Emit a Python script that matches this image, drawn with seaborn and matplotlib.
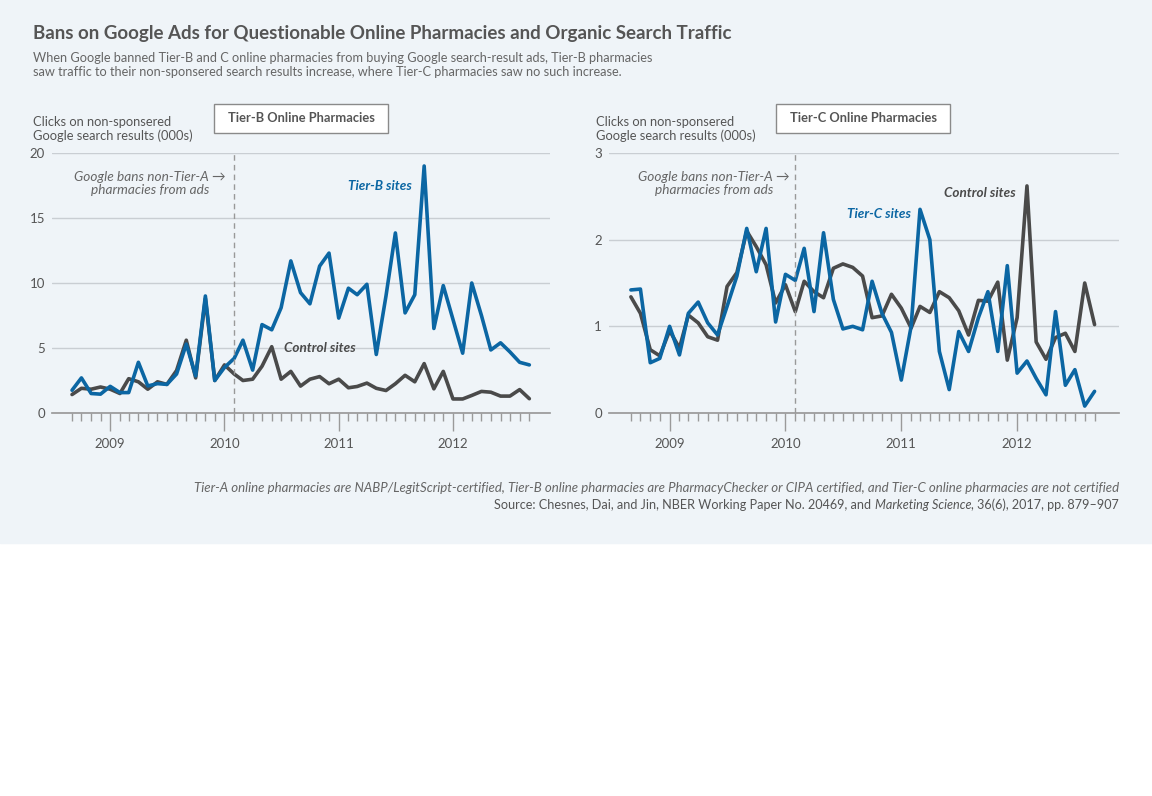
import pandas as pd
import matplotlib.pyplot as plt
import matplotlib.dates as mdates
from matplotlib.patches import Rectangle
import seaborn as sns

# Monthly observations, Sep 2008 - Sep 2012
months = pd.date_range("2008-09-01", periods=49, freq="MS")

tier_b = [1.75, 2.7, 1.5, 1.45, 2.05, 1.57, 1.57, 3.9, 2.08, 2.26, 2.2, 3.0,
          5.3, 2.85, 9.0, 2.5, 3.5, 4.2, 5.6, 3.3, 6.8, 6.4, 8.1, 11.7,
          9.26, 8.4, 11.3, 12.3, 7.3, 9.6, 9.1, 9.9, 4.5, 9.0, 13.85, 7.7,
          9.1, 19.0, 6.5, 9.8, 7.2, 4.6, 10.0, 7.5, 4.85, 5.4, 4.7, 3.9, 3.7]
control_b = [1.42, 1.9, 1.83, 2.0, 1.83, 1.5, 2.64, 2.4, 1.83, 2.4, 2.2, 3.27,
             5.6, 2.7, 8.8, 2.5, 3.7, 3.0, 2.5, 2.6, 3.6, 5.1, 2.6, 3.2,
             2.07, 2.6, 2.8, 2.25, 2.6, 1.94, 2.04, 2.3, 1.9, 1.73, 2.25, 2.9,
             2.4, 3.8, 1.86, 3.2, 1.08, 1.08, 1.35, 1.66, 1.6, 1.3, 1.3, 1.8, 1.1]

tier_c = [1.42, 1.43, 0.58, 0.63, 1.0, 0.67, 1.15, 1.28, 1.04, 0.9, 1.23, 1.58,
          2.13, 1.63, 2.13, 1.05, 1.6, 1.53, 1.9, 1.17, 2.08, 1.31, 0.97, 1.0,
          0.96, 1.52, 1.15, 0.93, 0.38, 1.0, 2.35, 2.0, 0.71, 0.27, 0.94, 0.71,
          1.1, 1.4, 0.71, 1.7, 0.46, 0.6, 0.4, 0.21, 1.17, 0.32, 0.5, 0.08, 0.25]
control_c = [1.34, 1.15, 0.73, 0.66, 0.95, 0.75, 1.13, 1.04, 0.88, 0.84, 1.46, 1.62,
             2.1, 1.92, 1.71, 1.27, 1.48, 1.17, 1.52, 1.4, 1.33, 1.67, 1.72, 1.68,
             1.58, 1.1, 1.12, 1.37, 1.21, 0.98, 1.23, 1.16, 1.4, 1.33, 1.18, 0.9,
             1.3, 1.29, 1.51, 0.61, 1.1, 2.62, 0.82, 0.62, 0.87, 0.92, 0.71, 1.5, 1.02]

ban_date = pd.Timestamp("2010-02-01")

BG = "#eff4f8"
BLUE = "#0b66a3"
DARK = "#4a4a4a"
TXT = "#555555"

sns.set_theme(style="white")
plt.rcParams["font.family"] = ["Lato", "DejaVu Sans"]

fig = plt.figure(figsize=(11.52, 7.96), dpi=100, facecolor="white")
fig.patches.append(Rectangle((0, 1 - 543 / 796), 1, 543 / 796, transform=fig.transFigure,
                             color=BG, zorder=-10))


def px(x, y):
    # pixel position -> figure fraction
    return x / 1152, 1 - y / 796


def draw_panel(ax, treated, control, name, ymax, yticks, xlim):
    df = pd.DataFrame({"month": months, name: treated, "Control sites": control})
    df = df.melt(id_vars="month", var_name="series", value_name="clicks")
    sns.lineplot(data=df, x="month", y="clicks", hue="series",
                 hue_order=["Control sites", name],
                 palette={"Control sites": DARK, name: BLUE},
                 linewidth=2.6, legend=False, ax=ax)
    ax.set_facecolor(BG)
    ax.set_ylim(0, ymax)
    ax.set_yticks(yticks)
    ax.set_xlim(*xlim)
    ax.grid(axis="y", color="#c9ced3", linewidth=1)
    ax.set_axisbelow(True)
    for s in ["top", "right", "left"]:
        ax.spines[s].set_visible(False)
    ax.spines["bottom"].set_color("#9a9a9a")
    ax.xaxis.set_major_locator(mdates.YearLocator())
    ax.xaxis.set_major_formatter(mdates.DateFormatter("%Y"))
    ax.set_xticks(months, minor=True)
    ax.tick_params(axis="x", which="major", length=13, width=1, color="#9a9a9a",
                   labelsize=9.5, labelcolor=TXT, pad=5, bottom=True)
    ax.tick_params(axis="x", which="minor", length=6, width=1, color="#9a9a9a", bottom=True)
    ax.tick_params(axis="y", length=0, labelsize=9.5, labelcolor=TXT, pad=5)
    ax.set_xlabel("")
    ax.set_ylabel("")
    ax.axvline(ban_date, color="#999999", linestyle=(0, (4, 3)), linewidth=1)


ax1 = fig.add_axes([52 / 1152, 1 - 413 / 796, 498 / 1152, 260 / 796])
ax2 = fig.add_axes([609 / 1152, 1 - 413 / 796, 510 / 1152, 260 / 796])

draw_panel(ax1, tier_b, control_b, "Tier-B sites", 20, [0, 5, 10, 15, 20],
           (pd.Timestamp("2008-06-29"), pd.Timestamp("2012-11-06")))
draw_panel(ax2, tier_c, control_c, "Tier-C sites", 3, [0, 1, 2, 3],
           (pd.Timestamp("2008-06-24"), pd.Timestamp("2012-11-17")))

# annotations inside panels
ann = "Google bans non-Tier-A \u2192\npharmacies from ads"
ax1.text(0.197, 0.881, ann, transform=ax1.transAxes, ha="center", va="center",
         style="italic", fontsize=9.8, color="#666666", linespacing=1.1)
ax2.text(0.206, 0.881, ann, transform=ax2.transAxes, ha="center", va="center",
         style="italic", fontsize=9.8, color="#666666", linespacing=1.1)
ax1.text(0.659, 0.873, "Tier-B sites", transform=ax1.transAxes, ha="center", va="center",
         style="italic", weight="bold", fontsize=9.7, color=BLUE)
ax1.text(0.538, 0.25, "Control sites", transform=ax1.transAxes, ha="center", va="center",
         style="italic", weight="bold", fontsize=9.7, color=DARK)
ax2.text(0.529, 0.765, "Tier-C sites", transform=ax2.transAxes, ha="center", va="center",
         style="italic", weight="bold", fontsize=9.7, color=BLUE)
ax2.text(0.728, 0.846, "Control sites", transform=ax2.transAxes, ha="center", va="center",
         style="italic", weight="bold", fontsize=9.7, color=DARK)

# y-axis captions
ylab = "Clicks on non-sponsered\nGoogle search results (000s)"
fig.text(*px(33, 129), ylab, ha="left", va="center", fontsize=9.3, color=TXT, linespacing=1.1)
fig.text(*px(596, 129), ylab, ha="left", va="center", fontsize=9.3, color=TXT, linespacing=1.1)

# panel title boxes
for x0, label in [(214, "Tier-B Online Pharmacies"), (776, "Tier-C Online Pharmacies")]:
    fig.patches.append(Rectangle(px(x0, 133), 174 / 1152, 29 / 796, transform=fig.transFigure,
                                 facecolor="white", edgecolor="#8a8a8a", linewidth=1, zorder=2))
    fig.text(*px(x0 + 87, 118.5), label, ha="center", va="center", fontsize=9.3,
             weight="bold", color=TXT, zorder=3)

# title and subtitle
fig.text(*px(33, 34), "Bans on Google Ads for Questionable Online Pharmacies and Organic Search Traffic",
         ha="left", va="center", fontsize=13.5, weight="bold", color=TXT)
fig.text(*px(33, 65), "When Google banned Tier-B and C online pharmacies from buying Google search-result ads, "
         "Tier-B pharmacies\nsaw traffic to their non-sponsered search results increase, where Tier-C "
         "pharmacies saw no such increase.",
         ha="left", va="center", fontsize=9.2, color="#666666", linespacing=1.15)

# footer notes
fig.text(*px(1119, 488), "Tier-A online pharmacies are NABP/LegitScript-certified, Tier-B online pharmacies "
         "are PharmacyChecker or CIPA certified, and Tier-C online pharmacies are not certified",
         ha="right", va="center", style="italic", fontsize=9.5, color="#666666")

renderer = fig.canvas.get_renderer()
parts = [("Source: Chesnes, Dai, and Jin, NBER Working Paper No. 20469, and ", "normal"),
         ("Marketing Science", "italic"),
         (", 36(6), 2017, pp. 879\u2013907", "normal")]
x_right = 1119
for text, st in reversed(parts):
    t = fig.text(*px(x_right, 505), text, ha="right", va="center", style=st,
                 fontsize=9.1, color="#555555")
    w = t.get_window_extent(renderer).width
    x_right -= w

fig.savefig("out.png", dpi=100, facecolor=fig.get_facecolor())
